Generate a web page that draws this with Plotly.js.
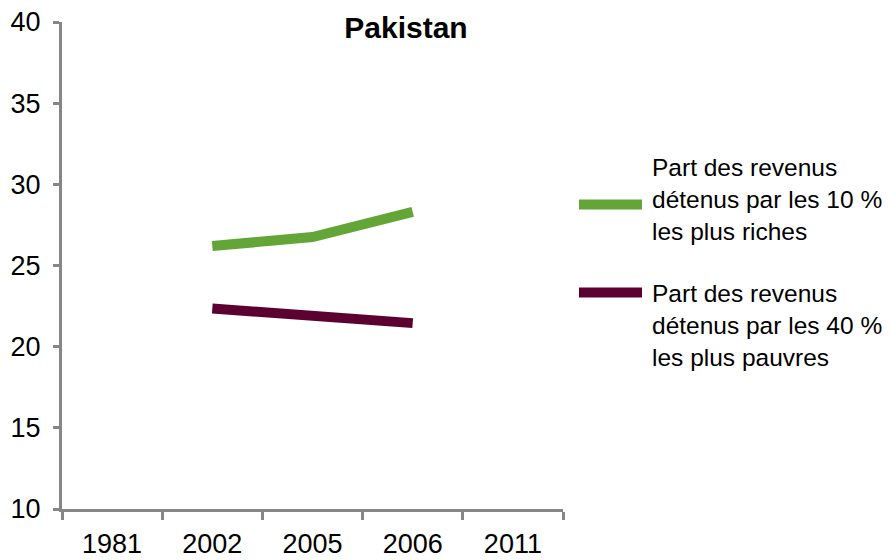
<!DOCTYPE html>
<html>
<head>
<meta charset="utf-8">
<script src="https://cdn.plot.ly/plotly-3.0.1.min.js"></script>
<style>html,body{margin:0;padding:0;background:#fff;}#chart{width:891px;height:560px;}</style>
</head>
<body>
<div id="chart"></div>
<script>
const years = ["1981", "2002", "2005", "2006", "2011"];
const richest10 = [null, 26.2, 26.75, 28.3];
const poorest40 = [null, 22.35, 21.85, 21.45];
const seriesNames = [
  "Part des revenus<br>détenus par les 10 %<br>les plus riches",
  "Part des revenus<br>détenus par les 40 %<br>les plus pauvres"
];
const seriesColors = ["#63a537", "#5c0032"];
const yTicks = [10, 15, 20, 25, 30, 35, 40];

const font = "Liberation Sans, Arial, sans-serif";
const axisColor = "#868686";

const traces = [richest10, poorest40].map((vals, i) => ({
  type: "scatter",
  mode: "lines",
  x: years.slice(0, vals.length),
  y: vals,
  name: seriesNames[i],
  line: {color: seriesColors[i], width: 10},
  connectgaps: false,
  showlegend: false
}));

const legendY = [0.6255, 0.4444];
const legendTextY = [0.636, 0.3765];
const shapes = [];
const annotations = [];
seriesNames.forEach((n, i) => {
  shapes.push({type: "line", xref: "paper", yref: "paper",
    x0: (579 - 62) / 501, x1: (642 - 62) / 501, y0: legendY[i], y1: legendY[i],
    line: {color: seriesColors[i], width: 10}});
  annotations.push({xref: "paper", yref: "paper", x: (650 - 62) / 501, y: legendTextY[i],
    xanchor: "left", yanchor: "middle", align: "left", showarrow: false,
    text: n, font: {family: font, size: 24.5, color: "#000"}});
});

const layout = {
  width: 891, height: 560,
  margin: {l: 62, r: 328, t: 22, b: 51},
  paper_bgcolor: "#fff", plot_bgcolor: "#fff",
  title: {text: "<b>Pakistan</b>", font: {family: font, size: 30, color: "#000"},
    xref: "container", x: 406 / 891, xanchor: "center",
    yref: "container", y: 1 - 27 / 560, yanchor: "middle"},
  xaxis: {type: "category", categoryorder: "array", categoryarray: years,
    tickvals: years, range: [-0.5, 4.5],
    showline: true, linecolor: axisColor, linewidth: 3,
    ticks: "outside", tickson: "boundaries", ticklen: 8, tickwidth: 3, tickcolor: axisColor,
    showgrid: false, zeroline: false,
    tickfont: {family: font, size: 27, color: "#000"}, ticklabelstandoff: 9},
  yaxis: {range: [10, 40], tickvals: yTicks, showline: true, linecolor: axisColor, linewidth: 3,
    ticks: "outside", ticklen: 6, tickwidth: 3, tickcolor: axisColor,
    showgrid: false, zeroline: false,
    tickfont: {family: font, size: 27, color: "#000"}, ticklabelstandoff: 7},
  shapes: shapes,
  annotations: annotations,
  showlegend: false
};

Plotly.newPlot("chart", traces, layout, {staticPlot: true, displayModeBar: false});
</script>
</body>
</html>
